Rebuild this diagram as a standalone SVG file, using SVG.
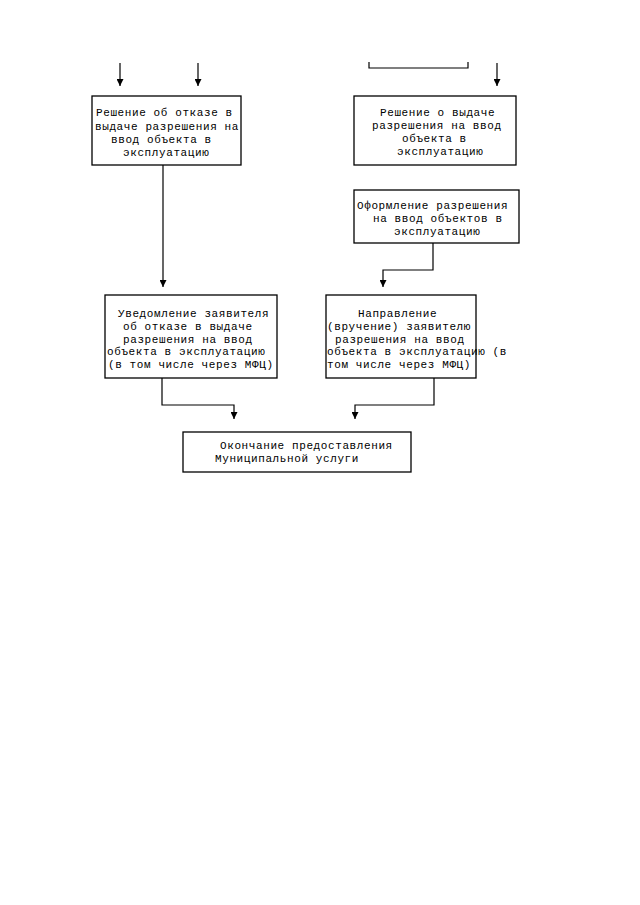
<svg xmlns="http://www.w3.org/2000/svg" width="640" height="905" viewBox="0 0 640 905">
<defs>
<marker id="ah" markerWidth="7" markerHeight="7" refX="7" refY="3.5" orient="auto" markerUnits="userSpaceOnUse" viewBox="0 0 7 7">
<path d="M0,0 L7,3.5 L0,7 Z" fill="#000"/>
</marker>
<style>
.box{fill:#fff;stroke:#000;stroke-width:1.3}
.t{font-family:"Liberation Mono","DejaVu Sans Mono",monospace;font-size:11px;letter-spacing:0.6px;fill:#000}
.c{fill:none;stroke:#000;stroke-width:1.2}
</style>
</defs>
<rect width="640" height="905" fill="#fff"/>
<g id="connectors">
<path class="c" d="M120,63 V86" marker-end="url(#ah)"/>
<path class="c" d="M198,63 V86" marker-end="url(#ah)"/>
<path class="c" d="M369,62 V68 H468 V62"/>
<path class="c" d="M497,63 V86" marker-end="url(#ah)"/>
<path class="c" d="M163,165 V287" marker-end="url(#ah)"/>
<path class="c" d="M433,243 V270 H383 V287" marker-end="url(#ah)"/>
<path class="c" d="M162,378 V405 H234 V419" marker-end="url(#ah)"/>
<path class="c" d="M434,378 V405 H355 V419" marker-end="url(#ah)"/>
</g>
<g id="node-refusal-decision">
<rect class="box" x="92" y="96" width="149" height="69"/>
<text class="t" x="96" y="116">Решение об отказе в</text>
<text class="t" x="95" y="130">выдаче разрешения на</text>
<text class="t" x="111" y="143">ввод объекта в</text>
<text class="t" x="123" y="156">эксплуатацию</text>
</g>
<g id="node-issue-decision">
<rect class="box" x="354" y="96" width="162" height="69"/>
<text class="t" x="380" y="116">Решение о выдаче</text>
<text class="t" x="372" y="129">разрешения на ввод</text>
<text class="t" x="402" y="142">объекта в</text>
<text class="t" x="397" y="155">эксплуатацию</text>
</g>
<g id="node-formalize">
<rect class="box" x="354" y="190" width="165" height="53"/>
<text class="t" x="357" y="209">Оформление разрешения</text>
<text class="t" x="373" y="222">на ввод объектов в</text>
<text class="t" x="394" y="235">эксплуатацию</text>
</g>
<g id="node-notify-refusal">
<rect class="box" x="105" y="295" width="172" height="83"/>
<text class="t" x="118" y="317">Уведомление заявителя</text>
<text class="t" x="123" y="329.5">об отказе в выдаче</text>
<text class="t" x="123" y="342.5">разрешения на ввод</text>
<text class="t" x="107" y="355">объекта в эксплуатацию</text>
<text class="t" x="108" y="367.5">(в том числе через МФЦ)</text>
</g>
<g id="node-deliver-permit">
<rect class="box" x="326" y="295" width="150" height="83"/>
<text class="t" x="358" y="317">Направление</text>
<text class="t" x="327" y="329.5">(вручение) заявителю</text>
<text class="t" x="335" y="342.5">разрешения на ввод</text>
<text class="t" x="327" y="355">объекта в эксплуатацию (в</text>
<text class="t" x="327" y="367.5">том числе через МФЦ)</text>
</g>
<g id="node-end">
<rect class="box" x="183" y="432" width="228" height="40"/>
<text class="t" x="220" y="449">Окончание предоставления</text>
<text class="t" x="215" y="461.5">Муниципальной услуги</text>
</g>
</svg>
